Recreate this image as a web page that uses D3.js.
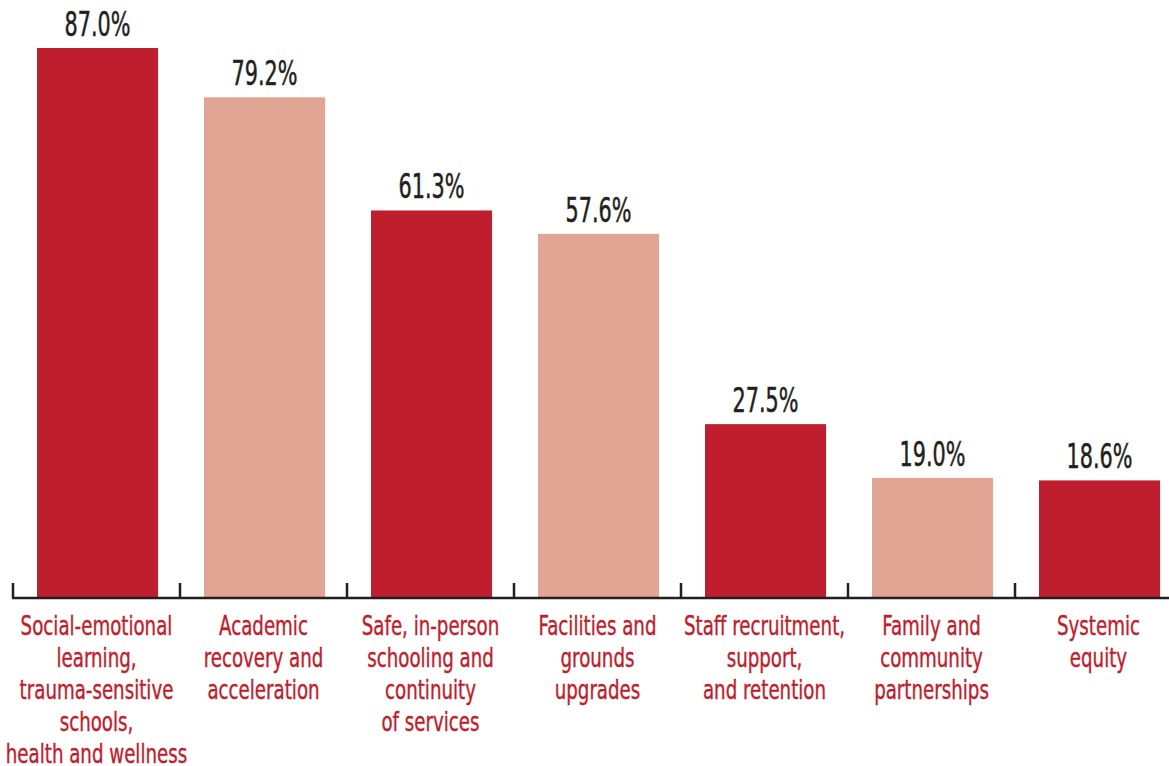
<!DOCTYPE html>
<html>
<head>
<meta charset="utf-8">
<script src="https://cdn.jsdelivr.net/npm/d3@7"></script>
<style>
  body { margin: 0; background: #fff; }
  svg { display: block; }
  .value { font-family: "DejaVu Sans Condensed", "Liberation Sans Narrow", sans-serif; fill: #231f20; stroke: #231f20; stroke-width: 0.5px; }
  .cat { font-family: "DejaVu Sans Condensed", "Liberation Sans Narrow", sans-serif; fill: #be1e2d; stroke: #be1e2d; stroke-width: 0.4px; }
</style>
</head>
<body>
<svg id="chart" width="1169" height="766"></svg>
<script>
const categories = [
  ['Social-emotional', 'learning,', 'trauma-sensitive', 'schools,', 'health and wellness'],
  ['Academic', 'recovery and', 'acceleration'],
  ['Safe, in-person', 'schooling and', 'continuity', 'of services'],
  ['Facilities and', 'grounds', 'upgrades'],
  ['Staff recruitment,', 'support,', 'and retention'],
  ['Family and', 'community', 'partnerships'],
  ['Systemic', 'equity']
];
const values = [87.0, 79.2, 61.3, 57.6, 27.5, 19.0, 18.6];
const barColors = ['#be1e2d', '#e2a594'];

const width = 1169, height = 766;
const left = 13, step = 167, baseY = 598;

const svg = d3.select('#chart');
const idx = d3.range(values.length);

const x = d3.scaleBand().domain(idx).range([left, left + step * idx.length])
    .paddingInner(0).paddingOuter(0);
const y = d3.scaleLinear().domain([0, 87]).range([baseY, 48]);

const barW = x.bandwidth() * 0.725;
const barOff = 24;

// bars
svg.append('g').selectAll('rect')
  .data(idx)
  .join('rect')
    .attr('x', i => x(i) + barOff)
    .attr('y', i => y(values[i]))
    .attr('width', barW)
    .attr('height', i => baseY - y(values[i]))
    .style('fill', i => barColors[i % 2]);

// value labels (squeezed to mimic a condensed face)
svg.append('g').selectAll('text')
  .data(idx)
  .join('text')
    .attr('class', 'value')
    .attr('text-anchor', 'middle')
    .attr('transform', i => `translate(${x(i) + barOff + barW / 2},${y(values[i]) - 12}) scale(0.7,1)`)
    .style('font-size', '33px')
    .text(i => values[i].toFixed(1) + '%');

// axis line + ticks at band boundaries
const axis = svg.append('g').attr('class', 'axis');
axis.append('line')
    .attr('x1', left - 1).attr('x2', width)
    .attr('y1', baseY).attr('y2', baseY)
    .style('stroke', '#231f20').style('stroke-width', 2.5);
axis.selectAll('.tick')
  .data(idx)
  .join('line')
    .attr('class', 'tick')
    .attr('x1', i => x(i)).attr('x2', i => x(i))
    .attr('y1', baseY).attr('y2', baseY - 15)
    .style('stroke', '#231f20').style('stroke-width', 2.5);

// category labels
const cat = svg.append('g').selectAll('text')
  .data(idx)
  .join('text')
    .attr('class', 'cat')
    .attr('text-anchor', 'middle')
    .attr('transform', i => `translate(${x(i) + x.bandwidth() / 2},635) scale(0.75,1)`)
    .style('font-size', '27px');
cat.selectAll('tspan')
  .data(i => categories[i])
  .join('tspan')
    .attr('x', 0)
    .attr('y', (d, j) => j * 32)
    .text(d => d);
</script>
</body>
</html>
